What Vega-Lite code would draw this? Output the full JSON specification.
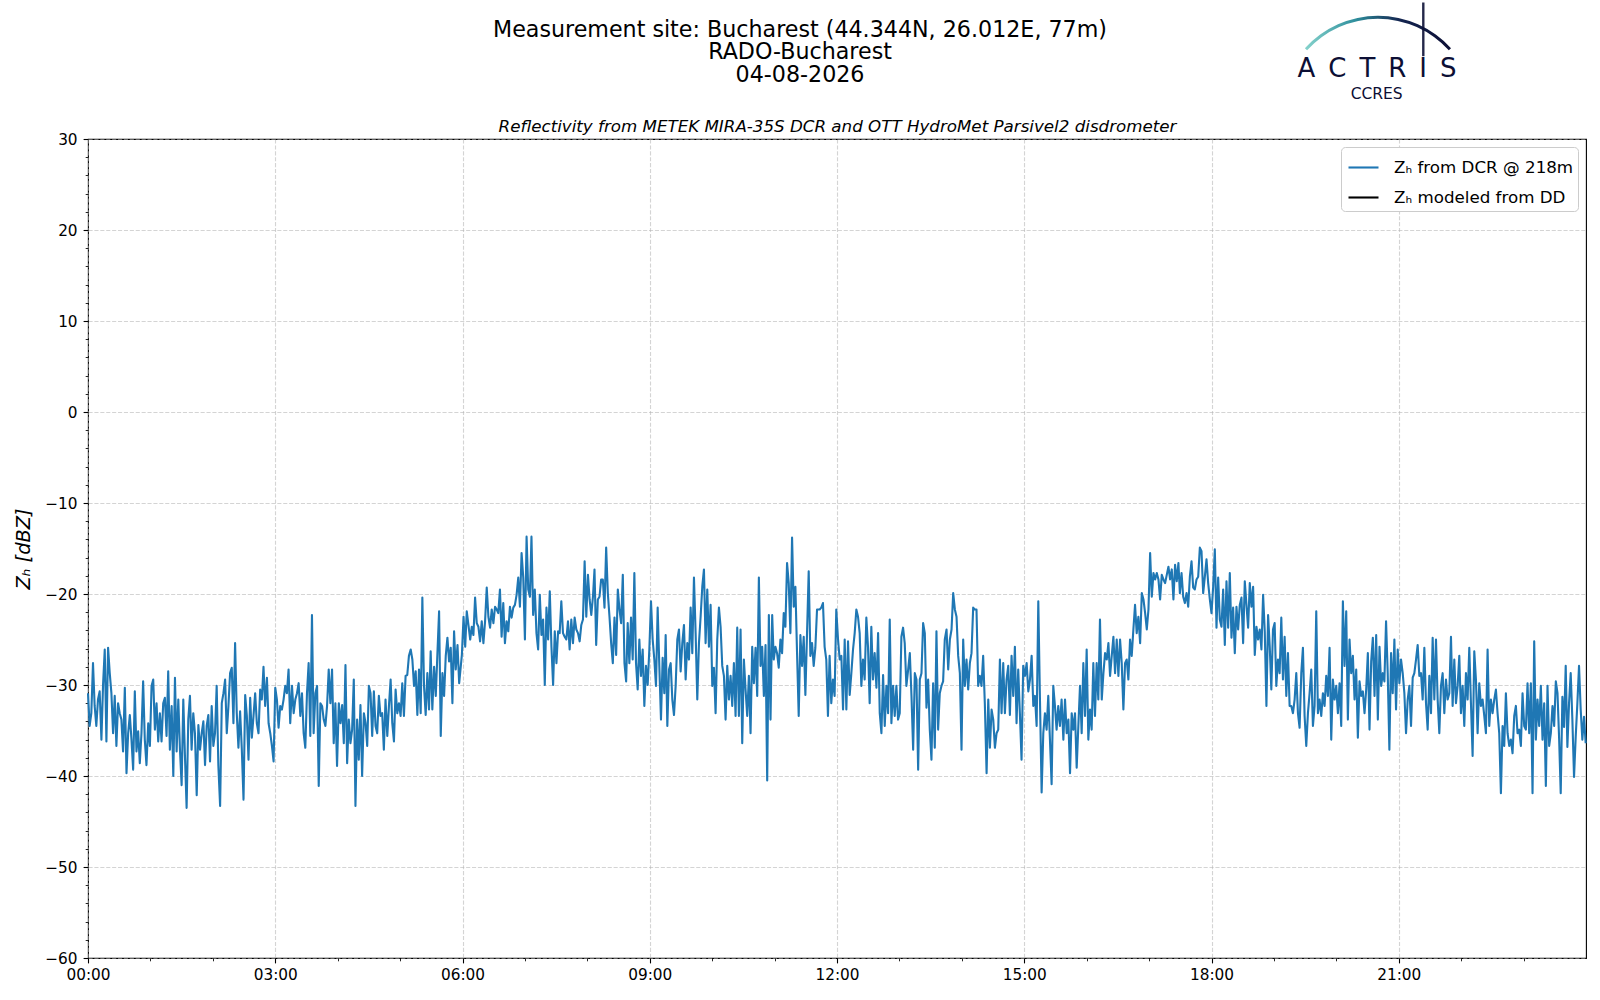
{
  "$schema": "https://vega.github.io/schema/vega-lite/v6.json",
  "width": 1498,
  "height": 819,
  "autosize": {"type": "none"},
  "padding": {"left": 88, "top": 139, "right": 14, "bottom": 42},
  "background": "white",
  "config": {
    "font": "DejaVu Sans",
    "view": {"stroke": "black", "strokeWidth": 1.1},
    "axis": {
      "labelFont": "DejaVu Sans", "labelFontSize": 15.3, "labelColor": "black",
      "tickColor": "black", "tickWidth": 1.1,
      "gridColor": "#b0b0b0", "gridOpacity": 0.55, "gridWidth": 1.1, "gridDash": [4.1, 1.8],
      "domain": false,
      "titleFont": "DejaVu Sans", "titleColor": "black", "titleFontWeight": "normal"
    }
  },
  "title": {
    "text": ["Measurement site: Bucharest (44.344N, 26.012E, 77m)", "RADO-Bucharest", "04-08-2026"],
    "anchor": "middle", "frame": "group", "dx": -37, "offset": -85,
    "font": "DejaVu Sans", "fontSize": 22.2, "fontWeight": "normal", "color": "black", "lineHeight": 22.8
  },
  "datasets": {
    "zh": [
{"m":0,"z":-30.9},{"m":1.6,"z":-34.5},{"m":3.2,"z":-33.1},{"m":4.8,"z":-27.6},{"m":6.4,"z":-32.3},{"m":8,"z":-34.5},{"m":9.6,"z":-31.6},{"m":11.2,"z":-30.7},{"m":12.9,"z":-36},{"m":14.5,"z":-29.9},{"m":16.1,"z":-26.1},{"m":17.7,"z":-36.2},{"m":19.3,"z":-25.9},{"m":20.9,"z":-28.7},{"m":22.5,"z":-30.9},{"m":24.1,"z":-35.3},{"m":25.7,"z":-31.2},{"m":27.3,"z":-36.7},{"m":28.9,"z":-32},{"m":30.5,"z":-33.1},{"m":32.1,"z":-33.8},{"m":33.7,"z":-37.3},{"m":35.4,"z":-30.3},{"m":37,"z":-39.7},{"m":38.6,"z":-35.3},{"m":40.2,"z":-33.3},{"m":41.8,"z":-36},{"m":43.4,"z":-39.3},{"m":45,"z":-30.7},{"m":46.6,"z":-37.3},{"m":48.2,"z":-35.1},{"m":49.8,"z":-38.6},{"m":51.4,"z":-35.3},{"m":53,"z":-29.6},{"m":54.6,"z":-36},{"m":56.2,"z":-38.8},{"m":57.9,"z":-34.2},{"m":59.5,"z":-36.7},{"m":61.1,"z":-30.1},{"m":62.7,"z":-29.4},{"m":64.3,"z":-34.9},{"m":65.9,"z":-32},{"m":67.5,"z":-36.2},{"m":69.1,"z":-33.1},{"m":70.7,"z":-36.2},{"m":72.3,"z":-32},{"m":73.9,"z":-31.4},{"m":75.5,"z":-35.6},{"m":77.1,"z":-28.5},{"m":78.7,"z":-37.1},{"m":80.4,"z":-32.3},{"m":82,"z":-40},{"m":83.6,"z":-29.2},{"m":85.2,"z":-37.3},{"m":86.8,"z":-31.6},{"m":88.4,"z":-37.1},{"m":90,"z":-41},{"m":91.6,"z":-31.6},{"m":93.2,"z":-37.8},{"m":94.8,"z":-43.5},{"m":96.4,"z":-33.8},{"m":98,"z":-31.2},{"m":99.6,"z":-37.1},{"m":101.2,"z":-33.1},{"m":102.8,"z":-35.3},{"m":104.5,"z":-42.1},{"m":106.1,"z":-34.4},{"m":107.7,"z":-37.1},{"m":109.3,"z":-35.3},{"m":110.9,"z":-34},{"m":112.5,"z":-38.8},{"m":114.1,"z":-34.5},{"m":115.7,"z":-33.3},{"m":117.3,"z":-38.4},{"m":118.9,"z":-32.3},{"m":120.5,"z":-36.7},{"m":122.1,"z":-35.3},{"m":123.7,"z":-30.1},{"m":125.3,"z":-38.8},{"m":127,"z":-43.3},{"m":128.6,"z":-32},{"m":130.2,"z":-30.9},{"m":131.8,"z":-29.4},{"m":133.4,"z":-35.3},{"m":135,"z":-32.3},{"m":136.6,"z":-28.7},{"m":138.2,"z":-28.1},{"m":139.8,"z":-34.2},{"m":141.4,"z":-25.4},{"m":143,"z":-33.1},{"m":144.6,"z":-36.9},{"m":146.2,"z":-32.9},{"m":147.8,"z":-36.9},{"m":149.5,"z":-42.6},{"m":151.1,"z":-31.1},{"m":152.7,"z":-33.4},{"m":154.3,"z":-38.2},{"m":155.9,"z":-31.4},{"m":157.5,"z":-35.8},{"m":159.1,"z":-33.4},{"m":160.7,"z":-30.9},{"m":162.3,"z":-34.2},{"m":163.9,"z":-35.3},{"m":165.5,"z":-30.5},{"m":167.1,"z":-31.6},{"m":168.7,"z":-28},{"m":170.3,"z":-32.3},{"m":172,"z":-29.2},{"m":173.6,"z":-34.2},{"m":175.2,"z":-35.3},{"m":176.8,"z":-36.7},{"m":178.4,"z":-38.4},{"m":180,"z":-30.3},{"m":181.6,"z":-31.6},{"m":183.2,"z":-34.7},{"m":184.8,"z":-32.3},{"m":186.4,"z":-32.7},{"m":188,"z":-31.6},{"m":189.6,"z":-30.1},{"m":191.2,"z":-30.9},{"m":192.8,"z":-28.3},{"m":194.4,"z":-34.2},{"m":196.1,"z":-30.1},{"m":197.7,"z":-33.1},{"m":199.3,"z":-31.6},{"m":200.9,"z":-30.9},{"m":202.5,"z":-29.8},{"m":204.1,"z":-33.4},{"m":205.7,"z":-30.9},{"m":207.3,"z":-35.3},{"m":208.9,"z":-36.9},{"m":210.5,"z":-30.9},{"m":212.1,"z":-27.6},{"m":213.7,"z":-35.6},{"m":215.3,"z":-22.3},{"m":216.9,"z":-35.3},{"m":218.6,"z":-30.9},{"m":220.2,"z":-30.1},{"m":221.8,"z":-41.1},{"m":223.4,"z":-32},{"m":225,"z":-32.3},{"m":226.6,"z":-33.8},{"m":228.2,"z":-34.5},{"m":229.8,"z":-32.3},{"m":231.4,"z":-28.3},{"m":233,"z":-32},{"m":234.6,"z":-28.3},{"m":236.2,"z":-36.4},{"m":237.8,"z":-32},{"m":239.4,"z":-38.9},{"m":241.1,"z":-32},{"m":242.7,"z":-34.2},{"m":244.3,"z":-32.2},{"m":245.9,"z":-36.4},{"m":247.5,"z":-27.8},{"m":249.1,"z":-38.6},{"m":250.7,"z":-33.8},{"m":252.3,"z":-36.4},{"m":253.9,"z":-34.9},{"m":255.5,"z":-29.4},{"m":257.1,"z":-43.3},{"m":258.7,"z":-33.8},{"m":260.3,"z":-38.2},{"m":261.9,"z":-32.2},{"m":263.5,"z":-40},{"m":265.2,"z":-33.1},{"m":266.8,"z":-34.2},{"m":268.4,"z":-36.7},{"m":270,"z":-30.1},{"m":271.6,"z":-30.9},{"m":273.2,"z":-35.6},{"m":274.8,"z":-30.7},{"m":276.4,"z":-34.5},{"m":278,"z":-35.3},{"m":279.6,"z":-31.2},{"m":281.2,"z":-33.4},{"m":282.8,"z":-33.1},{"m":284.4,"z":-37.1},{"m":286,"z":-31.6},{"m":287.7,"z":-35.6},{"m":289.3,"z":-32.3},{"m":290.9,"z":-29.4},{"m":292.5,"z":-34.2},{"m":294.1,"z":-36.2},{"m":295.7,"z":-30.5},{"m":297.3,"z":-33.1},{"m":298.9,"z":-32},{"m":300.5,"z":-33.4},{"m":302.1,"z":-29.8},{"m":303.7,"z":-33.4},{"m":305.3,"z":-29},{"m":306.9,"z":-28.9},{"m":308.5,"z":-26.8},{"m":310.2,"z":-26.1},{"m":311.8,"z":-27.2},{"m":313.4,"z":-30.1},{"m":315,"z":-28.5},{"m":316.6,"z":-33.3},{"m":318.2,"z":-28.3},{"m":319.8,"z":-33.1},{"m":321.4,"z":-20.4},{"m":323,"z":-30.1},{"m":324.6,"z":-33.3},{"m":326.2,"z":-28.7},{"m":327.8,"z":-32.7},{"m":329.4,"z":-26.3},{"m":331,"z":-32.7},{"m":332.7,"z":-28},{"m":334.3,"z":-31.2},{"m":335.9,"z":-26.5},{"m":337.5,"z":-21.9},{"m":339.1,"z":-35.6},{"m":340.7,"z":-28.7},{"m":342.3,"z":-31.2},{"m":343.9,"z":-26.8},{"m":345.5,"z":-24.8},{"m":347.1,"z":-27.4},{"m":348.7,"z":-25.9},{"m":350.3,"z":-32},{"m":351.9,"z":-24.1},{"m":353.5,"z":-28.3},{"m":355.2,"z":-25.6},{"m":356.8,"z":-29.8},
{"m":359.4,"z":-26.7},{"m":361,"z":-22.5},{"m":362.6,"z":-25.8},{"m":364.1,"z":-21.9},{"m":365.7,"z":-23.4},{"m":367.4,"z":-25},{"m":368.9,"z":-23.6},{"m":370.5,"z":-24.5},{"m":372.1,"z":-20.4},{"m":373.7,"z":-23.2},{"m":375.3,"z":-23.6},{"m":376.9,"z":-25.2},{"m":378.5,"z":-23},{"m":380.1,"z":-25.4},{"m":381.7,"z":-23},{"m":383.3,"z":-19.3},{"m":384.9,"z":-22.5},{"m":386.5,"z":-23.7},{"m":388.1,"z":-21.7},{"m":389.7,"z":-23.2},{"m":391.3,"z":-21.4},{"m":392.9,"z":-21.7},{"m":394.4,"z":-22.1},{"m":396,"z":-19.5},{"m":397.6,"z":-24.7},{"m":399.2,"z":-21},{"m":400.8,"z":-25.4},{"m":402.4,"z":-23},{"m":404,"z":-24.1},{"m":405.6,"z":-21.4},{"m":407.2,"z":-22.6},{"m":408.8,"z":-21.5},{"m":410.4,"z":-21.2},{"m":412,"z":-20.1},{"m":413.6,"z":-18.2},{"m":415.2,"z":-21.4},{"m":416.8,"z":-15.5},{"m":418.4,"z":-18.2},{"m":420,"z":-25},{"m":421.6,"z":-13.7},{"m":423.2,"z":-19.5},{"m":424.8,"z":-20.3},{"m":426.3,"z":-13.7},{"m":427.9,"z":-22.3},{"m":429.5,"z":-19.5},{"m":431.1,"z":-24.3},{"m":432.7,"z":-26.1},{"m":434.3,"z":-20.1},{"m":435.9,"z":-24.5},{"m":437.5,"z":-22.8},{"m":439.1,"z":-30},{"m":440.7,"z":-21.5},{"m":442.3,"z":-25},{"m":443.9,"z":-19.7},{"m":445.5,"z":-25.8},{"m":447.1,"z":-30},{"m":448.7,"z":-24.1},{"m":450.3,"z":-27.6},{"m":451.9,"z":-24.1},{"m":453.4,"z":-24.3},{"m":455,"z":-20.8},{"m":456.6,"z":-24.3},{"m":458.2,"z":-24.7},{"m":459.8,"z":-25},{"m":461.4,"z":-23},{"m":463,"z":-26.1},{"m":464.6,"z":-22.8},{"m":466.2,"z":-25.4},{"m":467.8,"z":-22.6},{"m":469.4,"z":-23.9},{"m":471,"z":-24.3},{"m":472.6,"z":-25.2},{"m":474.2,"z":-23.4},{"m":475.8,"z":-22.8},{"m":477.4,"z":-16.4},{"m":479,"z":-22.5},{"m":480.6,"z":-17.9},{"m":482.2,"z":-20.6},{"m":483.8,"z":-22.3},{"m":485.4,"z":-20.3},{"m":486.9,"z":-17.3},{"m":488.5,"z":-25.6},{"m":490.1,"z":-20.6},{"m":491.7,"z":-20.3},{"m":493.3,"z":-18.4},{"m":494.9,"z":-18.4},{"m":496.5,"z":-21.5},{"m":498.1,"z":-14.9},{"m":499.7,"z":-19.9},{"m":501.3,"z":-22.5},{"m":502.9,"z":-25.4},{"m":504.5,"z":-27.6},{"m":506.1,"z":-22.6},{"m":507.7,"z":-26.7},{"m":509.3,"z":-19.5},{"m":510.9,"z":-21.7},{"m":512.5,"z":-23.2},{"m":514.1,"z":-17.9},{"m":515.7,"z":-27.6},{"m":517.3,"z":-29.6},{"m":518.8,"z":-23.2},{"m":520.4,"z":-27.6},{"m":522,"z":-22.6},{"m":523.6,"z":-27.2},{"m":525.2,"z":-17.7},{"m":526.8,"z":-27.6},{"m":528.4,"z":-30.5},{"m":530,"z":-25},{"m":531.6,"z":-29},{"m":533.2,"z":-26.1},{"m":534.8,"z":-32.3},{"m":536.4,"z":-27.9},{"m":538,"z":-30},{"m":539.6,"z":-26.1},{"m":541.2,"z":-20.8},{"m":542.8,"z":-25},{"m":544.4,"z":-27.2},{"m":546,"z":-30.1},{"m":547.6,"z":-21.5},{"m":549.2,"z":-27.9},{"m":550.8,"z":-33.8},{"m":552.4,"z":-27},{"m":554,"z":-30.9},{"m":555.3,"z":-24.5},{"m":556.9,"z":-34.5},{"m":558.5,"z":-28.3},{"m":560.1,"z":-27.6},{"m":561.7,"z":-31.6},{"m":563.3,"z":-33.3},{"m":564.9,"z":-30.1},{"m":566.5,"z":-25},{"m":568.1,"z":-23.9},{"m":569.7,"z":-28.5},{"m":571.3,"z":-25.4},{"m":572.9,"z":-23.4},{"m":574.5,"z":-29.4},{"m":576.1,"z":-25.4},{"m":577.7,"z":-27.2},{"m":579.3,"z":-21.5},{"m":580.9,"z":-26.5},{"m":582.5,"z":-18.2},{"m":584.1,"z":-24.3},{"m":585.7,"z":-31.6},{"m":587.3,"z":-25.4},{"m":588.9,"z":-22.5},{"m":590.5,"z":-19.2},{"m":592.1,"z":-17.3},{"m":593.7,"z":-25.4},{"m":595.3,"z":-19.5},{"m":596.9,"z":-25.8},{"m":598.5,"z":-21.2},{"m":600.1,"z":-30.1},{"m":601.7,"z":-28.1},{"m":603.3,"z":-33.1},{"m":604.9,"z":-25},{"m":606.5,"z":-21.5},{"m":608.1,"z":-23.6},{"m":609.7,"z":-27.9},{"m":611.3,"z":-29},{"m":612.9,"z":-33.8},{"m":614.5,"z":-27.9},{"m":616.1,"z":-31.6},{"m":617.7,"z":-29},{"m":619.3,"z":-32.3},{"m":620.9,"z":-27.6},{"m":622.5,"z":-33.4},{"m":624.1,"z":-23.7},{"m":625.7,"z":-33.4},{"m":627.3,"z":-23.9},{"m":628.9,"z":-36.4},{"m":630.5,"z":-27.2},{"m":632.1,"z":-30.5},{"m":633.7,"z":-33.4},{"m":635.3,"z":-29},{"m":636.9,"z":-35.3},{"m":638.5,"z":-25.8},{"m":640.1,"z":-29.8},{"m":641.7,"z":-25.9},{"m":643.3,"z":-31.2},{"m":644.9,"z":-18.2},{"m":646.5,"z":-27.9},{"m":648.1,"z":-25.8},{"m":649.7,"z":-31.2},{"m":651.3,"z":-25.6},{"m":652.9,"z":-40.5},{"m":654.5,"z":-22.3},{"m":656.1,"z":-33.8},{"m":657.7,"z":-22.3},{"m":659.2,"z":-27.2},{"m":660.8,"z":-25.8},{"m":662.4,"z":-26.5},{"m":664,"z":-28.1},{"m":665.6,"z":-25},{"m":667.2,"z":-26.5},{"m":668.8,"z":-22.1},{"m":670.4,"z":-23.6},{"m":672,"z":-16.6},{"m":673.6,"z":-18.8},{"m":675.2,"z":-24.3},{"m":676.8,"z":-13.8},{"m":678.4,"z":-21.4},{"m":680,"z":-19.2},{"m":681.6,"z":-26.5},{"m":683.2,"z":-33.4},{"m":684.8,"z":-24.5},{"m":686.4,"z":-27.9},{"m":688,"z":-24.7},{"m":689.6,"z":-31.1},{"m":691.2,"z":-24.3},{"m":692.8,"z":-17.5},{"m":694.4,"z":-26.8},{"m":696,"z":-25.4},{"m":697.6,"z":-27.9},{"m":699.2,"z":-25.9},{"m":700.8,"z":-21.7},
{"m":703.3,"z":-21.7},{"m":704.9,"z":-21.5},{"m":706.5,"z":-21},{"m":708.1,"z":-25.8},{"m":709.7,"z":-27.2},{"m":711.3,"z":-33.4},{"m":712.9,"z":-26.8},{"m":714.5,"z":-32},{"m":716.1,"z":-29.4},{"m":717.7,"z":-31.2},{"m":719.3,"z":-21.7},{"m":721,"z":-25},{"m":722.6,"z":-27.2},{"m":724.2,"z":-26.8},{"m":725.8,"z":-32.7},{"m":727.4,"z":-25},{"m":729,"z":-32.7},{"m":730.6,"z":-25.2},{"m":732.2,"z":-31.1},{"m":733.8,"z":-28.7},{"m":735.4,"z":-26.1},{"m":737,"z":-24.3},{"m":738.6,"z":-21.7},{"m":740.2,"z":-22.5},{"m":741.8,"z":-24.3},{"m":743.4,"z":-30.1},{"m":745,"z":-27.2},{"m":746.6,"z":-29.4},{"m":748.2,"z":-22.6},{"m":749.8,"z":-25.8},{"m":751.4,"z":-32},{"m":753,"z":-23.6},{"m":754.6,"z":-29.4},{"m":756.2,"z":-26.5},{"m":757.9,"z":-30.3},{"m":759.5,"z":-24.3},{"m":761.1,"z":-33.1},{"m":762.7,"z":-35.3},{"m":764.3,"z":-28.9},{"m":765.9,"z":-34.5},{"m":767.5,"z":-30.1},{"m":769.1,"z":-33.1},{"m":770.7,"z":-22.8},{"m":772.3,"z":-34.2},{"m":773.9,"z":-30.1},{"m":775.5,"z":-33.4},{"m":777.1,"z":-30.1},{"m":778.7,"z":-33.8},{"m":780.3,"z":-33.1},{"m":781.9,"z":-24.7},{"m":783.5,"z":-23.7},{"m":785.1,"z":-25.4},{"m":786.7,"z":-30.1},{"m":788.4,"z":-28.3},{"m":790,"z":-26.5},{"m":791.6,"z":-31.2},{"m":793.2,"z":-37.1},{"m":794.8,"z":-28.7},{"m":796.4,"z":-29.4},{"m":798,"z":-39.3},{"m":799.6,"z":-29.4},{"m":801.2,"z":-28.7},{"m":802.8,"z":-23.2},{"m":804.4,"z":-24.3},{"m":806,"z":-32.5},{"m":807.6,"z":-29.4},{"m":809.2,"z":-34.9},{"m":810.8,"z":-38.2},{"m":812.4,"z":-29.8},{"m":814,"z":-36.9},{"m":815.6,"z":-24.1},{"m":817.2,"z":-34.9},{"m":818.8,"z":-30.9},{"m":820.4,"z":-30.1},{"m":822,"z":-29.6},{"m":823.6,"z":-25},{"m":825.3,"z":-23.9},{"m":826.9,"z":-28.3},{"m":828.5,"z":-25},{"m":830.1,"z":-23.9},{"m":831.7,"z":-19.9},{"m":833.3,"z":-21.7},{"m":834.9,"z":-22.5},{"m":836.5,"z":-26.8},{"m":838.1,"z":-28.7},{"m":839.7,"z":-37.1},{"m":841.3,"z":-25},{"m":842.9,"z":-30.1},{"m":844.5,"z":-27.2},{"m":846.1,"z":-30.5},{"m":847.7,"z":-27.6},{"m":849.3,"z":-26.5},{"m":850.9,"z":-21.5},{"m":852.5,"z":-21.7},{"m":854.1,"z":-21.7},{"m":855.7,"z":-30.1},{"m":857.3,"z":-29},{"m":858.9,"z":-30.1},{"m":860.5,"z":-26.8},{"m":862.1,"z":-32},{"m":863.8,"z":-39.7},{"m":865.4,"z":-31.6},{"m":867,"z":-36.9},{"m":868.6,"z":-32.7},{"m":870.2,"z":-33.8},{"m":871.8,"z":-36.9},{"m":873.4,"z":-35.3},{"m":875,"z":-34.9},{"m":876.6,"z":-27.2},{"m":878.2,"z":-33.1},{"m":879.8,"z":-27.6},{"m":881.4,"z":-33.1},{"m":883,"z":-29.4},{"m":884.6,"z":-27.9},{"m":886.2,"z":-33.3},{"m":887.8,"z":-26.8},{"m":889.4,"z":-31.2},{"m":891,"z":-25.8},{"m":892.6,"z":-34.2},{"m":894.2,"z":-28.3},{"m":895.8,"z":-33.1},{"m":897.4,"z":-38.2},{"m":899,"z":-27.9},{"m":900.7,"z":-29},{"m":902.3,"z":-27.6},{"m":903.9,"z":-30.7},{"m":905.5,"z":-29.4},{"m":907.1,"z":-26.8},{"m":908.7,"z":-32.3},{"m":910.3,"z":-31.2},{"m":911.9,"z":-34.5},{"m":913.5,"z":-20.8},{"m":915.1,"z":-31.6},{"m":916.7,"z":-41.8},{"m":918.3,"z":-35.3},{"m":919.9,"z":-33.1},{"m":921.5,"z":-34.9},{"m":923.1,"z":-31.2},{"m":924.7,"z":-36},{"m":926.3,"z":-40.9},{"m":927.9,"z":-30.1},{"m":929.5,"z":-32.3},{"m":931.1,"z":-34.9},{"m":932.7,"z":-32.3},{"m":934.3,"z":-34.5},{"m":935.9,"z":-31.6},{"m":937.6,"z":-36},{"m":939.2,"z":-31.6},{"m":940.8,"z":-35.3},{"m":942.4,"z":-33.8},{"m":944,"z":-39.7},{"m":945.6,"z":-33.1},{"m":947.2,"z":-34.9},{"m":948.8,"z":-33.1},{"m":950.4,"z":-39.1},{"m":952,"z":-34.5},{"m":953.6,"z":-30.1},{"m":955.2,"z":-35.3},{"m":956.8,"z":-27.6},{"m":958.4,"z":-33.4},{"m":960,"z":-26.1},{"m":961.6,"z":-36},{"m":963.2,"z":-32.7},{"m":964.8,"z":-34.9},{"m":966.4,"z":-27.6},{"m":968,"z":-33.4},{"m":969.6,"z":-27.6},{"m":971.2,"z":-31.6},{"m":972.8,"z":-22.8},{"m":974.5,"z":-31.6},{"m":976.1,"z":-28.7},{"m":977.7,"z":-26.5},{"m":979.3,"z":-27.2},{"m":980.9,"z":-25.4},{"m":982.5,"z":-29},{"m":984.1,"z":-26.8},{"m":985.7,"z":-24.7},{"m":987.3,"z":-28.7},{"m":988.9,"z":-25},{"m":990.5,"z":-29},{"m":992.1,"z":-25},{"m":993.7,"z":-27.6},{"m":995.3,"z":-32.7},{"m":996.9,"z":-27.6},{"m":998.5,"z":-27.2},{"m":1000.1,"z":-29.4},{"m":1001.7,"z":-25},{"m":1003.3,"z":-26.8},{"m":1004.9,"z":-23.9},{"m":1006.5,"z":-21.2},{"m":1008.1,"z":-24.3},{"m":1009.7,"z":-22.5},{"m":1011.4,"z":-25.4},{"m":1013,"z":-19.9},{"m":1014.6,"z":-20.6},{"m":1016.2,"z":-22.1},{"m":1017.8,"z":-23.9},{"m":1019.4,"z":-21.7},{"m":1021,"z":-15.5},{"m":1022.6,"z":-20.3},{"m":1024.2,"z":-17.7},{"m":1025.8,"z":-18.4},{"m":1027.4,"z":-17.7},{"m":1029,"z":-18.4},{"m":1030.6,"z":-20.6},{"m":1032.2,"z":-17.9},{"m":1033.8,"z":-18.4},{"m":1035.4,"z":-18.8},{"m":1037,"z":-17.9},{"m":1038.6,"z":-17},{"m":1040.2,"z":-18.4},{"m":1041.8,"z":-17.3},{"m":1043.4,"z":-20.6},{"m":1045,"z":-16.8},{"m":1046.6,"z":-18.6},{"m":1048.2,"z":-16.6},
{"m":1049.6,"z":-19.9},{"m":1051.2,"z":-17.7},{"m":1052.8,"z":-20.3},{"m":1054.4,"z":-21},{"m":1056,"z":-19.9},{"m":1057.6,"z":-21.4},{"m":1059.2,"z":-18.1},{"m":1060.8,"z":-16.4},{"m":1062.4,"z":-19.3},{"m":1064,"z":-19.5},{"m":1065.6,"z":-18.4},{"m":1067.2,"z":-18.1},{"m":1068.8,"z":-14.9},{"m":1070.4,"z":-15.3},{"m":1072,"z":-19.9},{"m":1073.6,"z":-18.1},{"m":1075.2,"z":-16.2},{"m":1076.8,"z":-18.8},{"m":1078.4,"z":-20.6},{"m":1080,"z":-22.1},{"m":1081.6,"z":-19.2},{"m":1083.2,"z":-15.1},{"m":1084.8,"z":-23.7},{"m":1086.4,"z":-18.2},{"m":1088,"z":-22.8},{"m":1089.6,"z":-23.6},{"m":1091.2,"z":-19.5},{"m":1092.8,"z":-25.6},{"m":1094.4,"z":-18.6},{"m":1096,"z":-23.7},{"m":1097.6,"z":-17.7},{"m":1099.2,"z":-24.8},{"m":1100.8,"z":-21.5},{"m":1102.4,"z":-26.5},{"m":1104,"z":-21.4},{"m":1105.6,"z":-23.9},{"m":1107.2,"z":-21.2},{"m":1108.8,"z":-20.4},{"m":1110.4,"z":-25.4},{"m":1112,"z":-18.6},{"m":1113.6,"z":-21.2},{"m":1115.2,"z":-23.7},{"m":1116.8,"z":-18.8},{"m":1118.4,"z":-21.4},{"m":1120,"z":-19.2},{"m":1121.6,"z":-26.7},{"m":1123.2,"z":-23.6},{"m":1124.8,"z":-25},{"m":1126.4,"z":-23.9},{"m":1128,"z":-26.1},{"m":1129.6,"z":-20.1},{"m":1131.2,"z":-24.1},{"m":1132.8,"z":-32.3},{"m":1134.4,"z":-22.3},{"m":1136,"z":-25.8},{"m":1137.5,"z":-30.5},{"m":1139.1,"z":-23.9},{"m":1140.7,"z":-23.2},{"m":1142.3,"z":-30.1},{"m":1143.9,"z":-27.2},{"m":1145.5,"z":-28.7},{"m":1147.1,"z":-22.6},{"m":1148.7,"z":-29.4},{"m":1150.3,"z":-24.7},{"m":1151.9,"z":-31.2},{"m":1153.5,"z":-26.5},{"m":1155.1,"z":-32.3},{"m":1156.7,"z":-32.3},{"m":1158.3,"z":-33.1},{"m":1159.9,"z":-31.6},{"m":1161.5,"z":-28.7},{"m":1163.1,"z":-33.1},{"m":1164.7,"z":-34.7},{"m":1166.3,"z":-28.7},{"m":1167.9,"z":-25.9},{"m":1169.5,"z":-33.4},{"m":1171.1,"z":-36.7},{"m":1172.7,"z":-33.1},{"m":1174.3,"z":-30.9},{"m":1175.9,"z":-28.3},{"m":1177.5,"z":-34.5},{"m":1179.1,"z":-32.3},{"m":1180.7,"z":-21.9},{"m":1182.3,"z":-33.1},{"m":1183.9,"z":-31.6},{"m":1185.5,"z":-33.4},{"m":1187.1,"z":-30.9},{"m":1188.7,"z":-32.3},{"m":1190.3,"z":-29},{"m":1191.9,"z":-31.2},{"m":1193.5,"z":-25.9},{"m":1195.1,"z":-36},{"m":1196.7,"z":-29.4},{"m":1198.3,"z":-31.6},{"m":1199.9,"z":-30.1},{"m":1201.5,"z":-33.1},{"m":1203.1,"z":-29.8},{"m":1204.7,"z":-34.5},{"m":1206.3,"z":-20.8},{"m":1207.9,"z":-27.9},{"m":1209.5,"z":-21.9},{"m":1211.1,"z":-33.8},{"m":1212.7,"z":-25},{"m":1214.3,"z":-28.7},{"m":1215.9,"z":-26.8},{"m":1217.5,"z":-31.6},{"m":1219.1,"z":-28.3},{"m":1220.7,"z":-35.8},{"m":1222.3,"z":-29.6},{"m":1223.9,"z":-31.2},{"m":1225.5,"z":-30.7},{"m":1227.1,"z":-33.1},{"m":1228.7,"z":-30.5},{"m":1230.3,"z":-26.5},{"m":1231.9,"z":-34.9},{"m":1233.5,"z":-27.4},{"m":1235.1,"z":-24.8},{"m":1236.7,"z":-31.2},{"m":1238.3,"z":-24.5},{"m":1239.9,"z":-33.8},{"m":1241.5,"z":-25.8},{"m":1243.1,"z":-30.1},{"m":1244.7,"z":-28.7},{"m":1246.2,"z":-29.6},{"m":1247.8,"z":-23},{"m":1249.4,"z":-28.7},{"m":1251,"z":-37.1},{"m":1252.6,"z":-26.5},{"m":1254.2,"z":-30.9},{"m":1255.8,"z":-25},{"m":1257.4,"z":-32.7},{"m":1259,"z":-26.1},{"m":1260.6,"z":-29.8},{"m":1262.2,"z":-27.2},{"m":1263.8,"z":-28.7},{"m":1265.4,"z":-30.9},{"m":1267,"z":-35.3},{"m":1268.6,"z":-31.6},{"m":1270.2,"z":-30.1},{"m":1271.8,"z":-34.5},{"m":1273.4,"z":-29.2},{"m":1275,"z":-28.7},{"m":1276.6,"z":-27.2},{"m":1278.2,"z":-25.6},{"m":1279.8,"z":-29},{"m":1281.4,"z":-28.7},{"m":1283,"z":-31.6},{"m":1284.6,"z":-25.9},{"m":1286.2,"z":-32},{"m":1287.8,"z":-34.9},{"m":1289.4,"z":-29},{"m":1291,"z":-33.1},{"m":1292.6,"z":-24.8},{"m":1294.2,"z":-31.6},{"m":1295.8,"z":-25},{"m":1297.4,"z":-31.6},{"m":1299,"z":-35.3},{"m":1300.6,"z":-30.1},{"m":1302.2,"z":-28.7},{"m":1303.8,"z":-33.1},{"m":1305.4,"z":-29.4},{"m":1307,"z":-31.6},{"m":1308.6,"z":-30.9},{"m":1310.2,"z":-24.7},{"m":1311.8,"z":-32.3},{"m":1313.4,"z":-27.2},{"m":1315,"z":-32},{"m":1316.6,"z":-30.1},{"m":1318.2,"z":-26.8},{"m":1319.8,"z":-33.1},{"m":1321.4,"z":-30.1},{"m":1323,"z":-34.5},{"m":1324.6,"z":-28.7},{"m":1326.2,"z":-31.6},{"m":1327.8,"z":-25.9},{"m":1329.4,"z":-32},{"m":1331,"z":-37.8},{"m":1332.6,"z":-26.3},{"m":1334.2,"z":-29.4},{"m":1335.8,"z":-35.3},{"m":1337.4,"z":-29.8},{"m":1339,"z":-32.3},{"m":1340.6,"z":-31.6},{"m":1342.2,"z":-33.4},{"m":1343.8,"z":-35.3},{"m":1345.4,"z":-26.1},{"m":1347,"z":-34.5},{"m":1348.6,"z":-31.6},{"m":1350.2,"z":-33.1},{"m":1351.8,"z":-31.6},{"m":1353.4,"z":-30.5},{"m":1355,"z":-33.1},{"m":1356.6,"z":-35.3},{"m":1358.2,"z":-41.9},{"m":1359.8,"z":-34.5},{"m":1361.4,"z":-36.7},{"m":1363,"z":-30.9},{"m":1364.6,"z":-35.3},{"m":1366.2,"z":-36.7},{"m":1367.8,"z":-36},{"m":1369.4,"z":-37.5},{"m":1371,"z":-33.4},{"m":1372.6,"z":-32.3},{"m":1374.2,"z":-35.3},{"m":1375.8,"z":-34.9},{"m":1377.4,"z":-36.7},{"m":1379,"z":-30.9},{"m":1380.6,"z":-34.5},{"m":1382.2,"z":-34.9},{"m":1383.8,"z":-29.8},{"m":1385.4,"z":-35.3},{"m":1387,"z":-29.8},{"m":1388.6,"z":-41.9},{"m":1390.2,"z":-25.2},{"m":1391.8,"z":-36},{"m":1393.4,"z":-31.6},{"m":1395,"z":-34.5},{"m":1396.6,"z":-30.1},{"m":1398.2,"z":-36},{"m":1399.8,"z":-32},{"m":1401.4,"z":-41.1},{"m":1403,"z":-30.1},{"m":1404.6,"z":-36.7},{"m":1406.2,"z":-35.3},{"m":1407.8,"z":-32.3},{"m":1409.4,"z":-34.5},{"m":1411,"z":-29.6},{"m":1412.6,"z":-30.9},{"m":1414.2,"z":-36},
{"m":1415.7,"z":-41.9},{"m":1417.3,"z":-31.3},{"m":1418.9,"z":-34.6},{"m":1420.5,"z":-27.9},{"m":1422.1,"z":-36.8},{"m":1423.7,"z":-32},{"m":1425.3,"z":-28.7},{"m":1426.9,"z":-33.8},{"m":1428.5,"z":-40.1},{"m":1430.1,"z":-35.7},{"m":1431.7,"z":-32},{"m":1433.3,"z":-27.9},{"m":1434.9,"z":-32.7},{"m":1436.5,"z":-36},{"m":1438.1,"z":-33.5},{"m":1439.7,"z":-36.4}
    ]
  },
  "data": {"name": "zh"},
  "resolve": {"axis": {"x": "independent", "y": "independent"}},
  "layer": [
    {
      "mark": {"type": "line", "strokeWidth": 2.1, "strokeJoin": "round"},
      "encoding": {
        "x": {
          "field": "m", "type": "quantitative",
          "scale": {"domain": [0, 1440], "nice": false, "zero": false},
          "axis": {
            "orient": "bottom", "title": null, "grid": true,
            "values": [0, 180, 360, 540, 720, 900, 1080, 1260],
            "labelExpr": "(datum.value < 600 ? '0' : '') + floor(datum.value / 60) + ':00'",
            "labelFlush": false, "labelOverlap": false, "tickSize": 4.9, "labelPadding": 4.2
          }
        },
        "y": {
          "field": "z", "type": "quantitative",
          "scale": {"domain": [-60, 30], "nice": false, "zero": false},
          "axis": {
            "orient": "left", "title": "Zₕ [dBZ]", "titleFontStyle": "italic", "titleFontSize": 19.4,
            "titlePadding": 11, "grid": true,
            "values": [-60, -50, -40, -30, -20, -10, 0, 10, 20, 30],
            "tickSize": 4.9, "labelPadding": 6, "labelOverlap": false
          }
        },
        "color": {
          "datum": "Zₕ from DCR @ 218m", "type": "nominal",
          "scale": {"domain": ["Zₕ from DCR @ 218m", "Zₕ modeled from DD"], "range": ["#1f77b4", "#000000"]},
          "legend": {
            "title": null, "orient": "top-right", "offset": 8,
            "symbolType": "stroke", "symbolSize": 900, "symbolStrokeWidth": 2.1, "symbolOffset": 2,
            "labelFont": "DejaVu Sans", "labelFontSize": 16.7, "labelColor": "black",
            "labelOffset": 14, "labelLimit": 400, "rowPadding": 4, "padding": 4,
            "strokeColor": "#cccccc", "fillColor": "white", "cornerRadius": 4
          }
        }
      }
    },
    {
      "mark": {"type": "line", "opacity": 0},
      "encoding": {
        "x": {
          "field": "m", "type": "quantitative",
          "scale": {"domain": [0, 1440], "nice": false, "zero": false},
          "axis": {
            "orient": "bottom", "title": null, "labels": false, "grid": false,
            "values": [60, 120, 240, 300, 420, 480, 600, 660, 780, 840, 960, 1020, 1140, 1200, 1320, 1380],
            "tickSize": 2.8, "tickWidth": 0.85
          }
        },
        "y": {
          "field": "z", "type": "quantitative",
          "scale": {"domain": [-60, 30], "nice": false, "zero": false},
          "axis": {
            "orient": "left", "title": null, "labels": false, "grid": false,
            "values": [-58, -56, -54, -52, -48, -46, -44, -42, -38, -36, -34, -32, -28, -26, -24, -22, -18, -16, -14, -12, -8, -6, -4, -2, 2, 4, 6, 8, 12, 14, 16, 18, 22, 24, 26, 28],
            "tickSize": 2.8, "tickWidth": 0.85
          }
        }
      }
    },
    {
      "mark": {"type": "line", "opacity": 0},
      "encoding": {
        "x": {
          "field": "m", "type": "quantitative",
          "scale": {"domain": [0, 1440], "nice": false, "zero": false},
          "axis": {
            "orient": "top", "labels": false, "ticks": false, "grid": false,
            "title": "Reflectivity from METEK MIRA-35S DCR and OTT HydroMet Parsivel2 disdrometer",
            "titleFontStyle": "italic", "titleFontSize": 16.7, "titlePadding": 7.5, "titleBaseline": "alphabetic"
          }
        },
        "y": {"field": "z", "type": "quantitative", "scale": {"domain": [-60, 30], "nice": false, "zero": false}, "axis": null}
      }
    },
    {
      "data": {"values": [{"label": "logo"}]},
      "mark": {
        "type": "arc", "theta": -0.836, "theta2": 0.836, "radius": 98.5, "radius2": 95.5,
        "fill": {"gradient": "linear", "x1": 0, "y1": 0, "x2": 1, "y2": 0,
          "stops": [{"offset": 0, "color": "#86d3cc"}, {"offset": 0.35, "color": "#2e8e9c"}, {"offset": 0.65, "color": "#142550"}, {"offset": 1, "color": "#0c0f35"}]}
      },
      "encoding": {
        "x": {"datum": 1240, "type": "quantitative", "axis": null},
        "y": {"datum": 32.71, "type": "quantitative", "axis": null}
      }
    },
    {
      "data": {"values": [{"label": "logo"}]},
      "mark": {"type": "rule", "color": "#0c0f35", "strokeWidth": 2.4, "opacity": 0.9},
      "encoding": {
        "x": {"datum": 1283.6, "type": "quantitative", "axis": null},
        "y": {"datum": 45.0, "type": "quantitative", "axis": null},
        "y2": {"datum": 39.1}
      }
    },
    {
      "data": {"values": [{"label": "A\u2002C\u2002T\u2002R\u2002I\u2002S"}]},
      "mark": {"type": "text", "font": "DejaVu Sans", "fontSize": 26, "color": "#0c0f35", "align": "center", "baseline": "alphabetic"},
      "encoding": {
        "text": {"field": "label"},
        "x": {"datum": 1239.1, "type": "quantitative", "axis": null},
        "y": {"datum": 36.78, "type": "quantitative", "axis": null}
      }
    },
    {
      "data": {"values": [{"label": "CCRES"}]},
      "mark": {"type": "text", "font": "DejaVu Sans", "fontSize": 15.5, "color": "#0c0f35", "align": "center", "baseline": "alphabetic"},
      "encoding": {
        "text": {"field": "label"},
        "x": {"datum": 1238.8, "type": "quantitative", "axis": null},
        "y": {"datum": 34.4, "type": "quantitative", "axis": null}
      }
    }
  ]
}
